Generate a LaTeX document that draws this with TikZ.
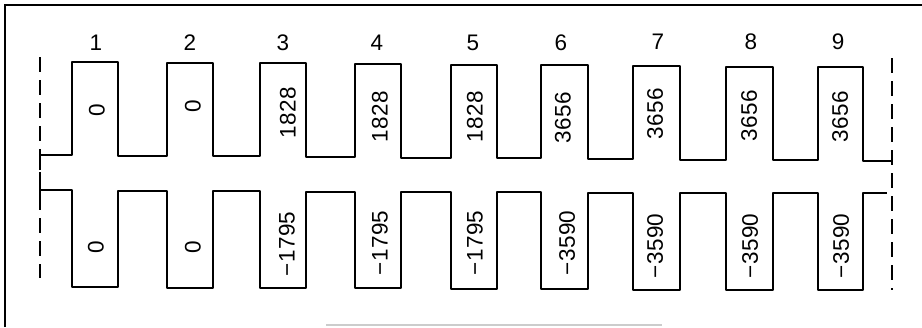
\documentclass[tikz,border=0pt]{standalone}
\usepackage{fontspec}
\setmainfont{Liberation Sans}
\newfontfamily\labfont[LetterSpace=2]{Liberation Sans}
\begin{document}
\begin{tikzpicture}[x=1pt,y=-1pt,
  wave/.style={line width=2pt, line join=round},
  frameline/.style={line width=1.4pt},
  guide/.style={line width=1.3pt, dash pattern=on 15pt off 8pt},
  num/.style={font=\labfont\fontsize{22.5}{22.5}\selectfont, inner sep=0pt},
  val/.style={num, rotate=90}]
\useasboundingbox (0,0) rectangle (922,327);
% frame
\draw[frameline] (5,327) -- (5,5) -- (922,5);
\draw[black!20, line width=1.5pt] (326,325) -- (662,325);
% guide lines
\draw[guide] (40,57) -- (40,278);
\draw[guide] (892,58) -- (892,290);
% upper comb
\draw[wave] (40,170) -- (40,155) -- (72,155) -- (72,62) -- (118,62) -- (118,155.5) -- (167,155.5) -- (167,62.5) -- (213,62.5) -- (213,156) -- (260,156) -- (260,63) -- (306,63) -- (306,156.5) -- (355,156.5) -- (355,64) -- (401,64) -- (401,157.5) -- (451,157.5) -- (451,64.5) -- (497,64.5) -- (497,158) -- (541,158) -- (541,65) -- (588,65) -- (588,158.5) -- (633,158.5) -- (633,66) -- (680,66) -- (680,159.5) -- (726,159.5) -- (726,66.5) -- (773,66.5) -- (773,160) -- (818,160) -- (818,67) -- (863,67) -- (863,160.5) -- (892,160.5);
% lower comb
\draw[wave] (40,180) -- (40,198);
\draw[wave] (40,190) -- (72,190) -- (72,287) -- (118,287) -- (118,190.5) -- (167,190.5) -- (167,287.5) -- (213,287.5) -- (213,191) -- (260,191) -- (260,288) -- (306,288) -- (306,191.5) -- (355,191.5) -- (355,288) -- (401,288) -- (401,192) -- (451,192) -- (451,288.5) -- (497,288.5) -- (497,192) -- (541,192) -- (541,289) -- (588,289) -- (588,192.5) -- (633,192.5) -- (633,289.5) -- (680,289.5) -- (680,193) -- (726,193) -- (726,290) -- (773,290) -- (773,193) -- (818,193) -- (818,290) -- (863,290) -- (863,193) -- (887,193);
% numbers
\node[num] (n1) at (96,43) {1};
\node[num] (n2) at (190,43) {2};
\node[num] (n3) at (283,43) {3};
\node[num] (n4) at (377,43) {4};
\node[num] (n5) at (473,43) {5};
\node[num] (n6) at (561,43) {6};
\node[num] (n7) at (658,42) {7};
\node[num] (n8) at (751,42) {8};
\node[num] (n9) at (838,42) {9};
% upper values
\node[val] (u1) at (97,110) {0};
\node[val] (u2) at (193,106) {0};
\node[val] (u3) at (288,113) {1828};
\node[val] (u4) at (380,117) {1828};
\node[val] (u5) at (475,117) {1828};
\node[val] (u6) at (563,118) {3656};
\node[val] (u7) at (655,114) {3656};
\node[val] (u8) at (749,116) {3656};
\node[val] (u9) at (840,117) {3656};
% lower values
\node[val] (l1) at (96,247) {0};
\node[val] (l2) at (193,247) {0};
\node[val] (l3) at (287,244) {−1795};
\node[val] (l4) at (380,243) {−1795};
\node[val] (l5) at (475,243) {−1795};
\node[val] (l6) at (567,243) {−3590};
\node[val] (l7) at (655,246) {−3590};
\node[val] (l8) at (750,246) {−3590};
\node[val] (l9) at (841,246) {−3590};
\end{tikzpicture}
\end{document}
